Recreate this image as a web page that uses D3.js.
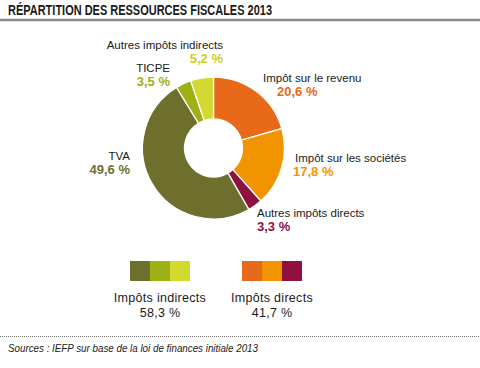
<!DOCTYPE html>
<html><head><meta charset="utf-8">
<script src="https://cdn.jsdelivr.net/npm/d3@7"></script>
<style>
body{margin:0;background:#fff;}
svg{display:block;}
text{font-family:"Liberation Sans",Arial,sans-serif;}
</style></head>
<body>
<script>
const title = "RÉPARTITION DES RESSOURCES FISCALES 2013";
const source = "Sources : IEFP sur base de la loi de finances initiale 2013";
const categories = ["Impôt sur le revenu","Impôt sur les sociétés","Autres impôts directs","TVA","TICPE","Autres impôts indirects"];
const values = [20.6, 17.8, 3.3, 49.6, 3.5, 5.2];
const valueLabels = ["20,6 %","17,8 %","3,3 %","49,6 %","3,5 %","5,2 %"];
const colors = ["#E8691A","#F29400","#901040","#6F6F2D","#9DB014","#D3D92F"];
const labelColors = ["#E8691A","#F29400","#901040","#6F6F2D","#9DB014","#C9CF25"];
const groupNames = ["Impôts indirects","Impôts directs"];
const groupValues = ["58,3 %","41,7 %"];
const groupMembers = [[3,4,5],[0,1,2]];

const W=480,H=368;
const svg=d3.select("body").append("svg").attr("width",W).attr("height",H);

// title
svg.append("text").attr("x",8).attr("y",15).attr("font-size",14.5).attr("font-weight","bold")
  .attr("textLength",264).attr("lengthAdjust","spacingAndGlyphs").attr("fill","#1a1a1a").text(title);
svg.append("line").attr("x1",0).attr("x2",W).attr("y1",20).attr("y2",20).attr("stroke","#8a8a8a").attr("stroke-width",2.5);

// donut
const cx=213.5, cy=148, R=71, r0=29;
const pie=d3.pie().sort(null).value(d=>d)(values);
const arc=d3.arc().innerRadius(r0).outerRadius(R);
const g=svg.append("g").attr("transform",`translate(${cx},${cy})`);
g.selectAll("path").data(pie).join("path").attr("d",arc)
  .attr("fill",(d,i)=>colors[i]).attr("stroke","#fff").attr("stroke-width",1.3);

// labels: [x, y name, anchor, x of value]
const labelPos = [
  [263, 82, "start", 277],
  [295, 162, "start", 293],
  [257, 217, "start", 257],
  [130, 160, "end", 130],
  [170, 72, "end", 170],
  [223, 49, "end", 223]
];
categories.forEach((c,i)=>{
  const [x,y,a,x2]=labelPos[i];
  svg.append("text").attr("x",x).attr("y",y).attr("text-anchor",a).attr("font-size",11.5)
    .attr("fill","#1a1a1a").text(c);
  svg.append("text").attr("x",x2).attr("y",y+14).attr("text-anchor",a).attr("font-size",13)
    .attr("font-weight","bold").attr("fill",labelColors[i]).text(valueLabels[i]);
});

// legend
const legX=[130,242];
const sw=d3.scaleBand().domain([0,1,2]).range([0,60]).padding(0);
groupMembers.forEach((m,gi)=>{
  const lg=svg.append("g").attr("transform",`translate(${legX[gi]},261)`);
  lg.selectAll("rect").data(m).join("rect").attr("x",(d,k)=>sw(k)).attr("y",0)
    .attr("width",sw.bandwidth()).attr("height",20).attr("fill",d=>colors[d]);
  svg.append("text").attr("x",legX[gi]+30).attr("y",302).attr("text-anchor","middle").attr("font-size",12.5)
    .attr("letter-spacing",0.3).attr("fill","#1a1a1a").text(groupNames[gi]);
  svg.append("text").attr("x",legX[gi]+30).attr("y",317).attr("text-anchor","middle").attr("font-size",12.5)
    .attr("letter-spacing",0.3).attr("fill","#1a1a1a").text(groupValues[gi]);
});

// source
svg.append("line").attr("x1",0).attr("x2",W).attr("y1",336.5).attr("y2",336.5).attr("stroke","#777")
  .attr("stroke-width",1).attr("stroke-dasharray","1,1");
svg.append("text").attr("x",8).attr("y",352).attr("font-size",10.5).attr("font-style","italic")
  .attr("textLength",250).attr("lengthAdjust","spacingAndGlyphs")
  .attr("fill","#1a1a1a").text(source);
</script>
</body></html>
